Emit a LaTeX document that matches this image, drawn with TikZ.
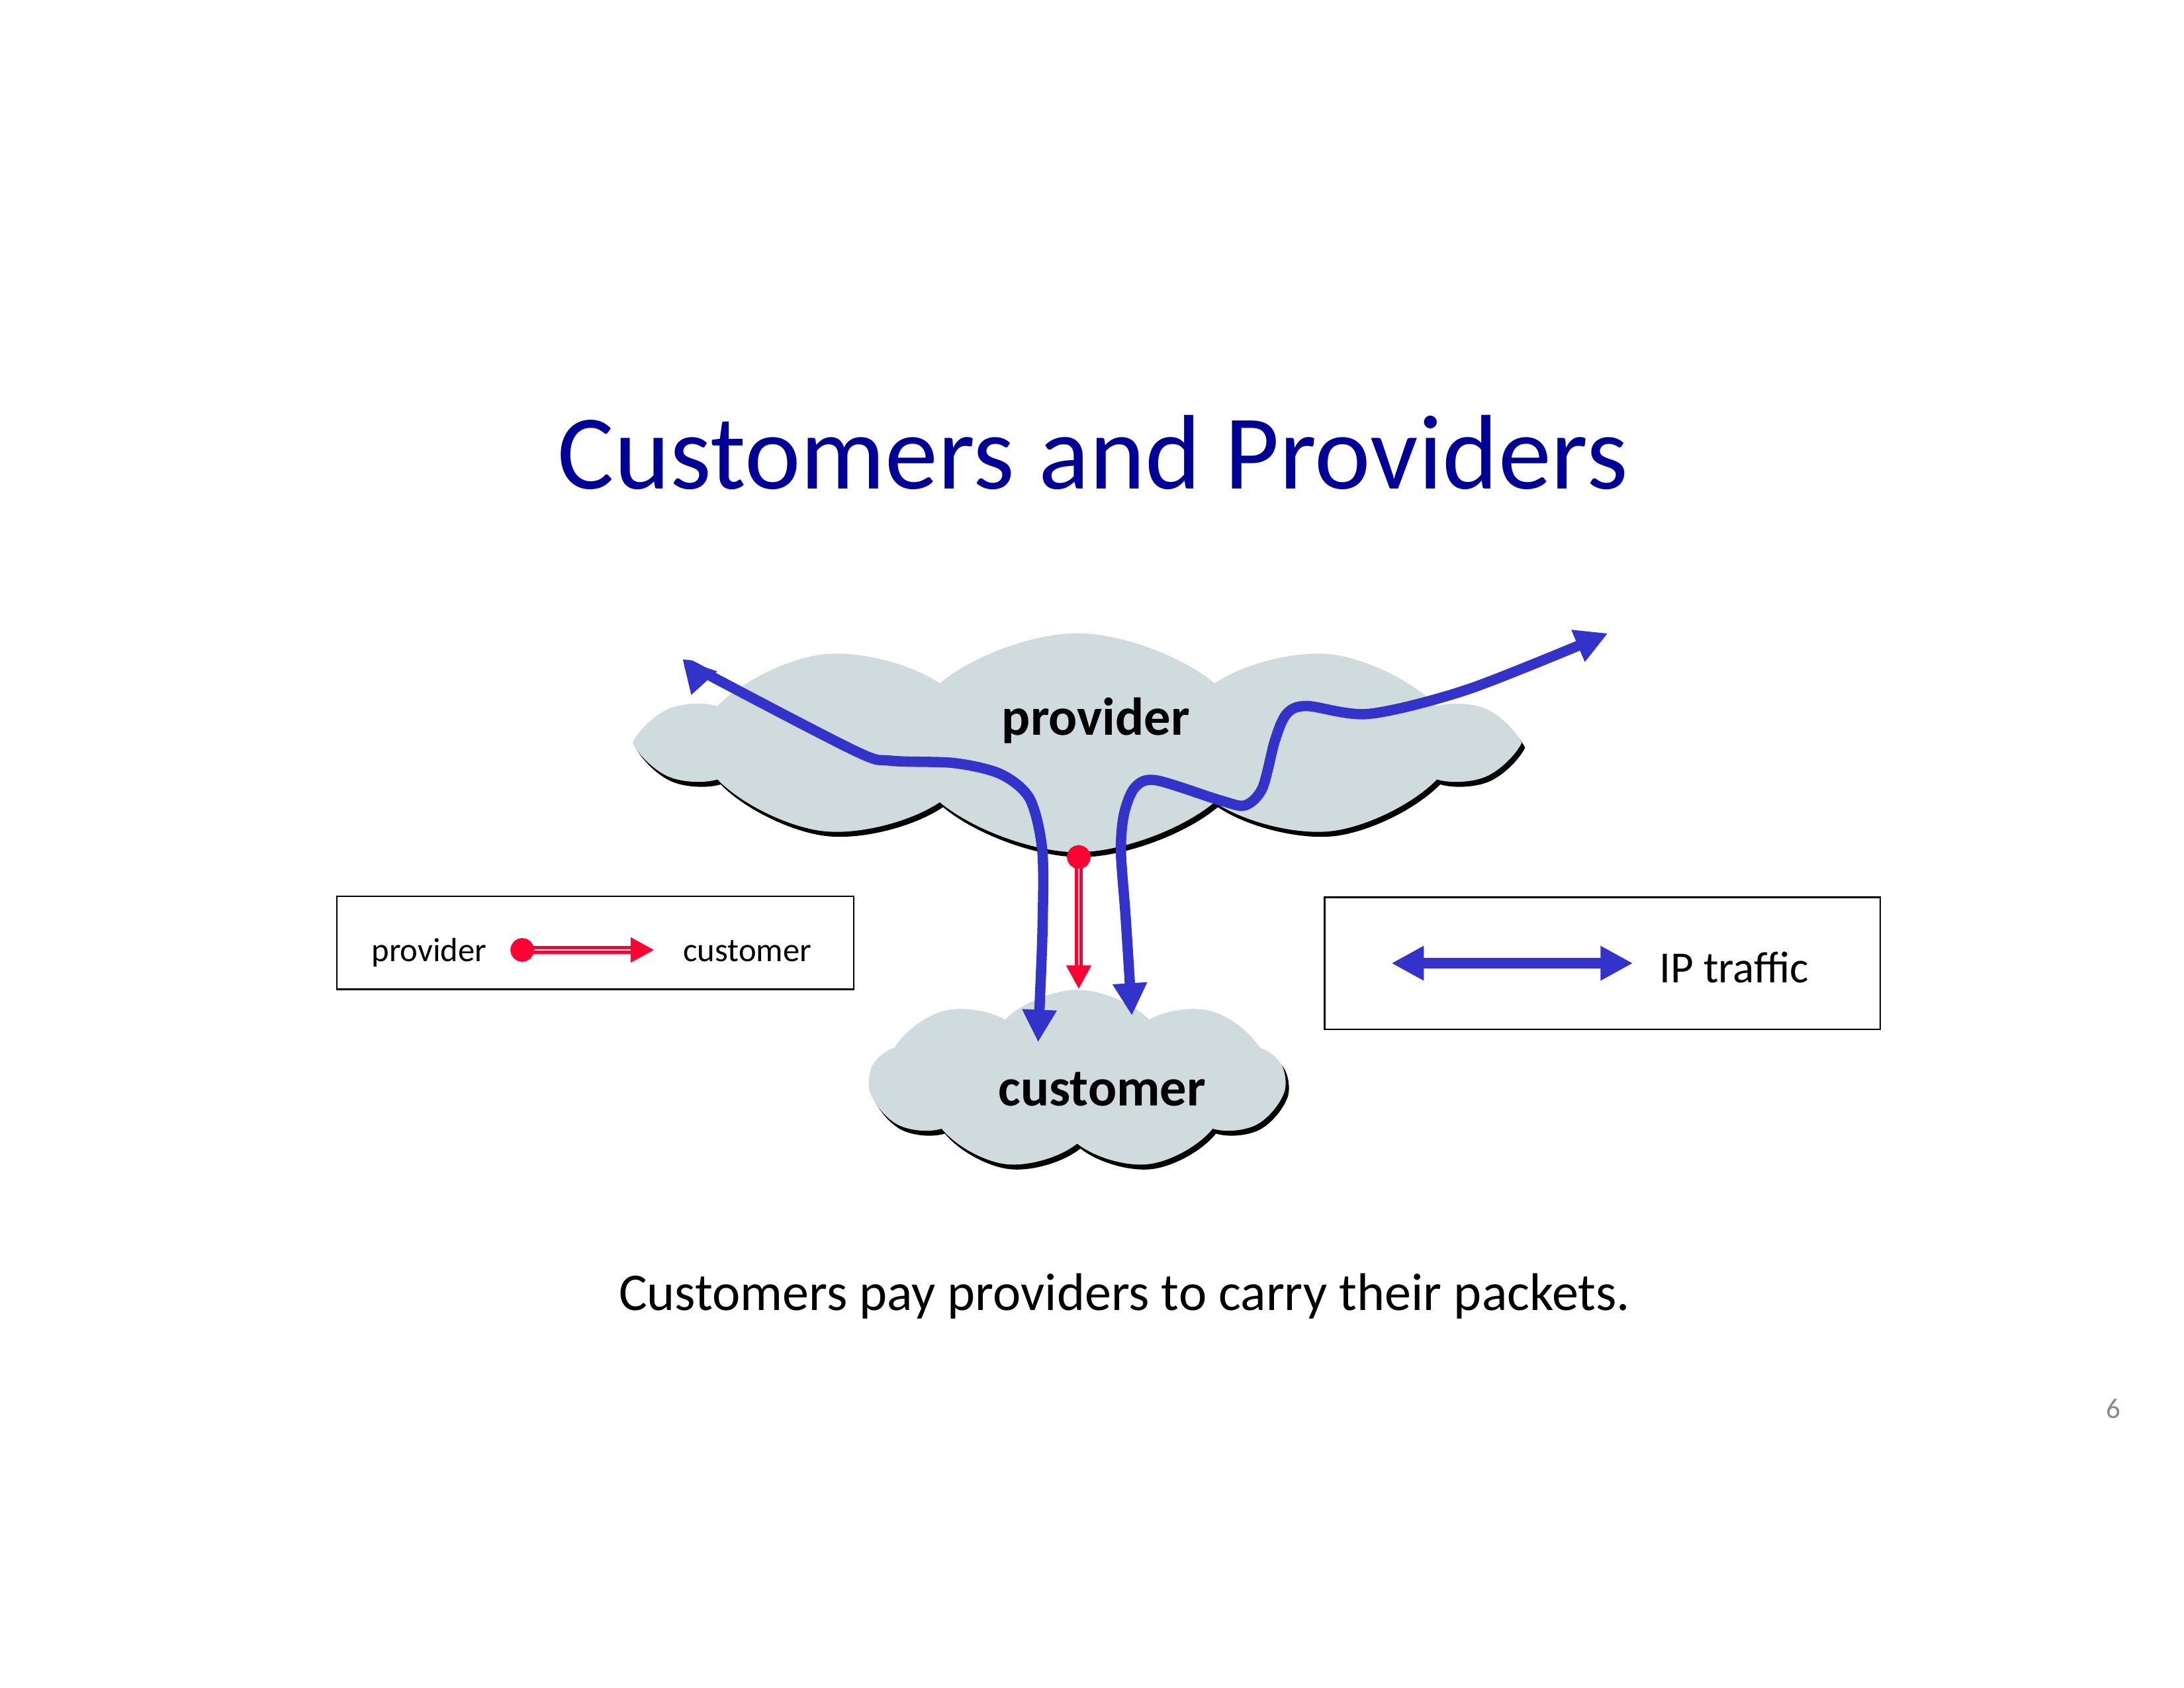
\documentclass[tikz,border=0pt]{standalone}
\usepackage{fontspec}
\setmainfont{Carlito}
\usepackage{tikz}
\usetikzlibrary{arrows.meta, shapes.symbols, shadows}

\definecolor{titleBlue}{RGB}{0,0,153}
\definecolor{trafficBlue}{RGB}{51,51,204}
\definecolor{relRed}{RGB}{255,0,51}
\definecolor{cloudGray}{RGB}{207,219,221}
\definecolor{pageGray}{RGB}{137,137,137}

\begin{document}
\begin{tikzpicture}[>={Triangle[length=11.8pt,width=11.8pt]}, inner sep=0pt,
        cloudy/.style={cloud, cloud ignores aspect, fill=cloudGray,
          drop shadow={shadow xshift=1.2pt, shadow yshift=-1.8pt, fill=black, opacity=1}},
        legendBox/.style={draw, line width=0.6pt},
        traffic/.style={<->, trafficBlue, line width=3.75pt},
        relation/.style={relRed, line width=3.1pt, {Circle[length=8.6pt]}-{Triangle[length=8.6pt,width=8.6pt]}},
        relCore/.style={white, line width=0.6pt, shorten <=8.6pt, shorten >=8.6pt}]

        \useasboundingbox (0,0) rectangle (27.94,21.59);

        \node [font=\fontsize{38.6}{46}\selectfont, text=titleBlue, anchor=base] at (13.98,15.34) (title) {Customers and Providers};

        % the two networks
        \node [cloudy, cloud puffs=10, cloud puff arc=80, minimum width=11.0cm, minimum height=2.8cm] at (13.78,12.09) (provider) {};
        \node [cloudy, cloud puffs=9, cloud puff arc=90, minimum width=5.3cm, minimum height=2.3cm] at (13.78,7.78) (customer) {};

        % IP traffic between them
        \coordinate (trafficLeftEnd) at (8.73,13.16);
        \coordinate (trafficLeftIn) at (13.28,8.26);
        \coordinate (trafficRightEnd) at (20.57,13.49);
        \coordinate (trafficRightIn) at (14.48,8.60);
        \draw[traffic] plot[smooth, tension=0.5] coordinates {(trafficLeftIn) (13.34,9.86) (13.33,10.75)
          (13.17,11.38) (12.80,11.69) (12.21,11.83) (11.40,11.86) (10.95,11.98) (9.08,12.95) (trafficLeftEnd)};
        \draw[traffic] plot[smooth, tension=0.5] coordinates {(trafficRightIn) (14.40,9.86) (14.34,10.70)
          (14.38,11.18) (14.52,11.52) (14.79,11.61) (15.62,11.35) (15.93,11.29) (16.15,11.51) (16.31,12.12)
          (16.46,12.46) (16.72,12.56) (17.52,12.46) (18.80,12.78) (trafficRightEnd)};

        % provider -> customer relation
        \coordinate (relTop) at (13.80,10.78);
        \coordinate (relBot) at (13.80,8.94);
        \draw[relation] (relTop) -- (relBot);
        \draw[relCore] (relTop) -- (relBot);

        \node [font=\bfseries\fontsize{19.4}{22}\selectfont, anchor=base] at (14.02,12.19) (providerText) {provider};
        \node [font=\bfseries\fontsize{19.4}{22}\selectfont, anchor=base] at (14.10,7.45) (customerText) {customer};

        % legends
        \node [legendBox, minimum width=6.61cm, minimum height=1.19cm] at (7.615,9.53) (relLegend) {};
        \node [font=\fontsize{12.2}{14}\selectfont, anchor=base] at (5.49,9.29) (legProvider) {provider};
        \node [font=\fontsize{12.2}{14}\selectfont, anchor=base] at (9.56,9.29) (legCustomer) {customer};
        \coordinate (legRelStart) at (6.53,9.44);
        \coordinate (legRelEnd) at (8.37,9.44);
        \draw[relation] (legRelStart) -- (legRelEnd);
        \draw[relCore] (legRelStart) -- (legRelEnd);

        \node [legendBox, minimum width=7.11cm, minimum height=1.69cm] at (20.50,9.27) (ipLegend) {};
        \coordinate (ipLeft) at (17.80,9.27);
        \coordinate (ipRight) at (20.89,9.27);
        \draw[traffic] (ipLeft) -- (ipRight);
        \node [font=\fontsize{16.2}{18}\selectfont, anchor=base west] at (21.22,9.02) (ipText) {IP traffic};

        \node [font=\fontsize{19.3}{22}\selectfont, anchor=base] at (14.385,4.83) (caption) {Customers pay providers to carry their packets.};
        \node [font=\fontsize{10.3}{12}\selectfont, text=pageGray, anchor=base] at (27.04,3.45) (pageNum) {6};

      \end{tikzpicture}
\end{document}
